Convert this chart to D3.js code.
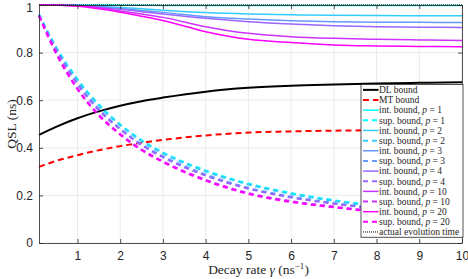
<!DOCTYPE html>
<html>
<head>
<meta charset="utf-8">
<script src="https://cdn.jsdelivr.net/npm/d3@7"></script>
<style>
  body { margin: 0; background: #fff; }
  svg { display: block; }
</style>
</head>
<body>
<div id="chart"></div>
<script>
// decay rate grid (ns^-1)
var gammas = [0.1, 0.5, 1, 1.5, 2, 2.5, 3, 4, 5, 6, 7, 8, 9, 10];

var dlBound = [0.454, 0.488, 0.524, 0.553, 0.577, 0.596, 0.611, 0.636, 0.652, 0.661, 0.666, 0.67, 0.673, 0.675];
var mtBound = [0.32, 0.345, 0.369, 0.39, 0.407, 0.421, 0.433, 0.452, 0.464, 0.469, 0.472, 0.474, 0.475, 0.476];

var pValues = [1, 2, 3, 4, 10, 20];
var pColors = ["#00ffff", "#33ccff", "#6699ff", "#9966ff", "#cc33ff", "#ff00ff"];

var intBounds = [
  [1, 1, 1, 1, 0.999, 0.999, 0.998, 0.998, 0.998, 0.998, 0.998, 0.998, 0.998, 0.998],
  [1, 1, 0.999, 0.995, 0.99, 0.984, 0.978, 0.968, 0.962, 0.959, 0.957, 0.956, 0.955, 0.955],
  [1, 1, 0.998, 0.992, 0.985, 0.977, 0.969, 0.951, 0.941, 0.934, 0.93, 0.928, 0.927, 0.926],
  [1, 1, 0.998, 0.991, 0.982, 0.972, 0.962, 0.944, 0.93, 0.92, 0.913, 0.909, 0.907, 0.905],
  [1, 1, 0.997, 0.988, 0.975, 0.962, 0.948, 0.909, 0.881, 0.867, 0.86, 0.856, 0.853, 0.851],
  [1, 0.999, 0.995, 0.984, 0.97, 0.953, 0.935, 0.888, 0.856, 0.842, 0.832, 0.828, 0.826, 0.825]
];

var supBounds = [
  [0.961, 0.824, 0.689, 0.582, 0.499, 0.432, 0.381, 0.305, 0.25, 0.21, 0.18, 0.157, 0.14, 0.126],
  [0.96, 0.821, 0.685, 0.577, 0.495, 0.428, 0.377, 0.301, 0.246, 0.206, 0.177, 0.154, 0.138, 0.124],
  [0.958, 0.813, 0.672, 0.563, 0.481, 0.415, 0.365, 0.288, 0.232, 0.195, 0.168, 0.147, 0.131, 0.118],
  [0.957, 0.81, 0.667, 0.558, 0.477, 0.411, 0.36, 0.283, 0.228, 0.191, 0.165, 0.144, 0.128, 0.115],
  [0.955, 0.799, 0.65, 0.54, 0.459, 0.394, 0.344, 0.266, 0.21, 0.176, 0.153, 0.134, 0.119, 0.107],
  [0.954, 0.796, 0.646, 0.535, 0.455, 0.39, 0.34, 0.262, 0.206, 0.172, 0.15, 0.131, 0.117, 0.105]
];

var actualTime = [1, 1, 1, 1, 1, 1, 1, 1, 1, 1, 1, 1, 1, 1];

var xTicks = [1, 2, 3, 4, 5, 6, 7, 8, 9, 10];
var yTicks = [0, 0.2, 0.4, 0.6, 0.8, 1];

var width = 468, height = 279;
var pL = 39, pR = 462, pT = 5, pB = 243;

var svg = d3.select("#chart").append("svg")
  .attr("width", width)
  .attr("height", height);

var x = d3.scaleLinear().domain([0.1, 10]).range([pL, pR]);
var y = d3.scaleLinear().domain([0, 1]).range([pB, pT]);

// grid
svg.append("g").selectAll("line")
  .data(xTicks).enter().append("line")
  .attr("x1", d => x(d)).attr("x2", d => x(d))
  .attr("y1", pT).attr("y2", pB)
  .attr("stroke", "#ebebeb").attr("stroke-width", 1);
svg.append("g").selectAll("line")
  .data(yTicks).enter().append("line")
  .attr("x1", pL).attr("x2", pR)
  .attr("y1", d => y(d)).attr("y2", d => y(d))
  .attr("stroke", "#ebebeb").attr("stroke-width", 1);

var line = d3.line()
  .x((d, i) => x(gammas[i]))
  .y(d => y(d))
  .curve(d3.curveMonotoneX);

var plot = svg.append("g");

plot.append("path").attr("d", line(dlBound))
  .attr("fill", "none").attr("stroke", "#000").attr("stroke-width", 2);
plot.append("path").attr("d", line(mtBound))
  .attr("fill", "none").attr("stroke", "#ff0000").attr("stroke-width", 2)
  .attr("stroke-dasharray", "6,4");

pValues.forEach(function (p, k) {
  plot.append("path").attr("d", line(intBounds[k]))
    .attr("fill", "none").attr("stroke", pColors[k]).attr("stroke-width", 1.5);
  plot.append("path").attr("d", line(supBounds[k]))
    .attr("fill", "none").attr("stroke", pColors[k]).attr("stroke-width", 2)
    .attr("stroke-dasharray", "5,4");
});

plot.append("path").attr("d", line(actualTime))
  .attr("fill", "none").attr("stroke", "#000").attr("stroke-width", 1)
  .attr("stroke-dasharray", "1,1");

// axes (MATLAB style box, ticks inward)
var axisColor = "#262626";
var xAxis = svg.append("g")
  .attr("transform", "translate(0," + pB + ")")
  .call(d3.axisBottom(x).tickValues(xTicks).tickSizeInner(-4).tickSizeOuter(0).tickPadding(8));
var yAxis = svg.append("g")
  .attr("transform", "translate(" + pL + ",0)")
  .call(d3.axisLeft(y).tickValues(yTicks).tickFormat(d => d3.format("")(d)).tickSizeInner(-4).tickSizeOuter(0).tickPadding(6));
var xTop = svg.append("g")
  .attr("transform", "translate(0," + pT + ")")
  .call(d3.axisTop(x).tickValues(xTicks).tickSizeInner(-4).tickSizeOuter(0).tickFormat(""));
var yRight = svg.append("g")
  .attr("transform", "translate(" + pR + ",0)")
  .call(d3.axisRight(y).tickValues(yTicks).tickSizeInner(-4).tickSizeOuter(0).tickFormat(""));

[xAxis, yAxis, xTop, yRight].forEach(function (g) {
  g.select(".domain").attr("stroke", axisColor).attr("stroke-width", 0.8);
  g.selectAll(".tick line").attr("stroke", axisColor).attr("stroke-width", 0.8);
  g.selectAll("text").attr("fill", axisColor)
    .style("font-family", "'Liberation Sans', Arial, sans-serif").style("font-size", "12px");
});
// keep the top "1" label inside the picture
yAxis.selectAll(".tick text").filter(d => d === 1).attr("dy", "0.5em");

// axis labels
svg.append("text")
  .attr("x", (pL + pR) / 2 + 8)
  .attr("y", 274)
  .attr("text-anchor", "middle")
  .style("font-family", "'Liberation Serif', 'DejaVu Serif', serif")
  .style("font-size", "13.5px")
  .attr("fill", axisColor)
  .html("Decay rate <tspan font-style='italic'>γ</tspan> (ns<tspan dy='-5' font-size='9px'>−1</tspan><tspan dy='5'>)</tspan>");

svg.append("text")
  .attr("transform", "translate(16," + ((pT + pB) / 2) + ") rotate(-90)")
  .attr("text-anchor", "middle")
  .style("font-family", "'Liberation Serif', 'DejaVu Serif', serif")
  .style("font-size", "13.5px")
  .attr("fill", axisColor)
  .text("QSL (ns)");

// legend
var legendItems = [
  { label: "DL bound", color: "#000", dash: null, w: 2 },
  { label: "MT bound", color: "#ff0000", dash: "6,4", w: 2 }
];
pValues.forEach(function (p, k) {
  legendItems.push({ label: "int. bound, ", p: p, color: pColors[k], dash: null, w: 1.5 });
  legendItems.push({ label: "sup. bound, ", p: p, color: pColors[k], dash: "5,4", w: 2 });
});
legendItems.push({ label: "actual evolution time", color: "#000", dash: "1,1", w: 1 });

var lgX = 361, lgY = 84.5, rowH = 10.15;
var lg = svg.append("g");
lg.append("rect")
  .attr("x", lgX).attr("y", lgY)
  .attr("width", pR + 1 - lgX).attr("height", rowH * legendItems.length + 0.5)
  .attr("fill", "#fff").attr("stroke", "#262626").attr("stroke-width", 0.8);

var rows = lg.selectAll("g.row").data(legendItems).enter().append("g")
  .attr("transform", (d, i) => "translate(" + lgX + "," + (lgY + rowH * (i + 0.5) + 0.3) + ")");
rows.append("line")
  .attr("x1", 2).attr("x2", 17.5).attr("y1", 0).attr("y2", 0)
  .attr("stroke", d => d.color).attr("stroke-width", d => d.w)
  .attr("stroke-dasharray", d => d.dash);
rows.append("text")
  .attr("x", 18).attr("y", 3.3)
  .style("font-family", "'Liberation Serif', 'DejaVu Serif', serif")
  .style("font-size", "9.5px")
  .attr("fill", "#262626")
  .html(d => d.p === undefined ? d.label
    : d.label + "<tspan font-style='italic'>p</tspan> = " + d.p);
</script>
</body>
</html>
